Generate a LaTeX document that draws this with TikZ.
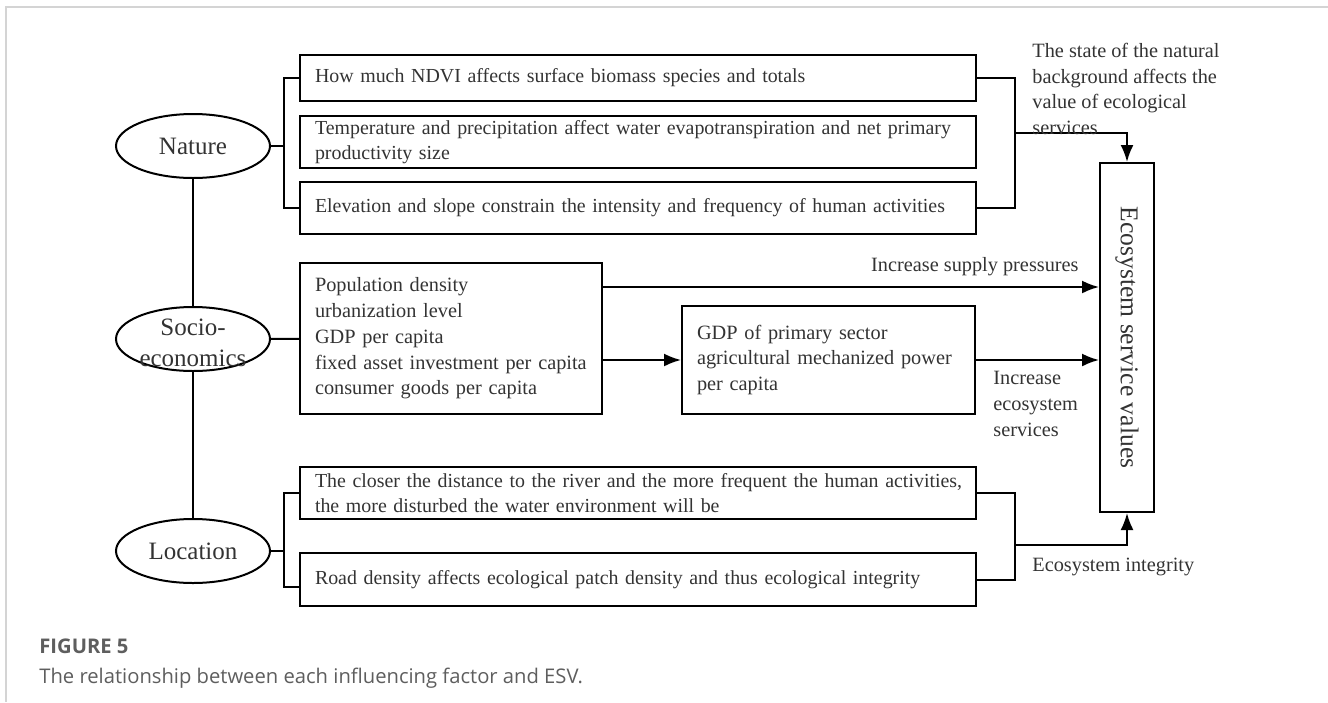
\documentclass[tikz,border=0pt]{standalone}
\usepackage{fontspec}
\setmainfont{Liberation Serif}
\newfontfamily\capfont{Open Sans}
\usepackage{xcolor}
\usepackage{tikz}
\usetikzlibrary{shapes.geometric, arrows.meta, positioning, calc}

\definecolor{framegray}{HTML}{D4D4D4}
\definecolor{capgray}{HTML}{5E5E5E}

\begin{document}
\begin{tikzpicture}[
        x=0.5pt, y=-0.5pt,
        factor/.style={ellipse, draw, line width=1pt, minimum width=77pt, minimum height=32pt, inner sep=0pt, text=black!80, font=\fontsize{12.5}{15.5}\selectfont},
        box/.style={rectangle, draw, line width=1pt, align=left, inner xsep=7.5pt, inner ysep=0pt, text=black!80, font=\fontsize{10.15}{12.9}\selectfont},
        widebox/.style={box, text width=323pt, font=\fontsize{9.95}{12.7}\selectfont},
        esvbox/.style={rectangle, draw, line width=1pt, rotate=-90, minimum width=174.5pt, minimum height=27pt, inner sep=0pt, text=black!80, font=\fontsize{12.8}{15}\selectfont},
        note/.style={align=left, inner sep=0pt, text=black!80, font=\fontsize{10.15}{12.9}\selectfont},
        link/.style={line width=1pt},
        arrow/.style={-{Latex[length=8.5pt,width=6.5pt]}, line width=1pt}
    ]
    \useasboundingbox (0,0) rectangle (1328,702);
    \draw[framegray, line width=1pt] (1328,7) -| (6,702);

    % Factors
    \node[factor] (nature) at (193,146) {Nature};
    \node[factor] (socio) at (193,339) {};
    \node[align=center, inner sep=0pt, text=black!80, font=\fontsize{12.5}{15.5}\selectfont] (sociotext) at (193,343) {Socio-\\economics};
    \node[factor] (location) at (193,551) {Location};

    % Nature
    \node[widebox, minimum height=23pt] (n1) at (638,78) {How much NDVI affects surface biomass species and totals};
    \node[widebox, minimum height=26pt] (n2) at (638,142) {\mbox{Temperature and precipitation affect water evapotranspiration and net primary}\\productivity size};
    \node[widebox, minimum height=26pt] (n3) at (638,208) {\mbox{Elevation and slope constrain the intensity and frequency of human activities}};

    % Socio-economics
    \node[box, text width=136pt, minimum height=75.5pt] (s1) at (451,338.5) {Population density\\urbanization level\\GDP per capita\\fixed asset investment per capita\\consumer goods per capita};
    \node[box, text width=131.5pt, minimum height=54pt] (gdp) at (828.5,360) {GDP of primary sector\\agricultural mechanized power\\per capita};

    % Location
    \node[widebox, minimum height=26pt] (l1) at (638,493) {\mbox{The closer the distance to the river and the more frequent the human activities,}\\the more disturbed the water environment will be};
    \node[widebox, minimum height=26.5pt] (l2) at (638,579.5) {Road density affects ecological patch density and thus ecological integrity};

    % ESV
    \node[esvbox] (esv) at (1127,337.5) {Ecosystem service values};

    % Junctions
    \coordinate (nl) at (284,146);
    \coordinate (nr) at (1015,133);
    \coordinate (ll) at (284,551);
    \coordinate (lr) at (1015,545);

    % Lines
    \draw[link] (nature) -- (socio);
    \draw[link] (socio) -- (location);
    \draw[link] (nature) -- (nl);
    \draw[link] (n1.west) -| (nl) |- (n3.west);
    \draw[link] (n1.east) -| (nr) |- (n3.east);
    \draw[arrow] (nr) -| (esv.west);
    \draw[link] (socio) -- (s1);
    \draw[arrow] (s1.east |- 0,287) -- (esv.south |- 0,287);
    \draw[arrow] (s1.east |- gdp.west) -- (gdp.west);
    \draw[arrow] (gdp.east) -- (gdp.east -| esv.south);
    \draw[link] (location) -- (ll);
    \draw[link] (l1.west) -| (ll) |- (l2.west |- 0,587);
    \draw[link] (l1.east) -| (lr) |- (l2.east);
    \draw[arrow] (lr) -| (esv.east);

    % Labels
    \node[note, anchor=west] (natnote) at (1032,89) {The state of the natural\\background affects the\\value of ecological\\services};
    \node[note, anchor=east] (pressnote) at (1079,267) {Increase supply pressures};
    \node[note, anchor=west] (incnote) at (993,404) {Increase\\ecosystem\\services};
    \node[note, anchor=west] (intnote) at (1032,567) {Ecosystem integrity};

    % Caption
    \node[anchor=west, inner sep=0pt, text=capgray, font=\capfont\bfseries\fontsize{10.1}{12}\selectfont] (figlabel) at (39,646) {FIGURE 5};
    \node[anchor=west, inner sep=0pt, text=capgray, font=\capfont\fontsize{10.1}{12}\selectfont] (figcap) at (39,678) {The relationship between each influencing factor and ESV.};

\end{tikzpicture}
\end{document}
